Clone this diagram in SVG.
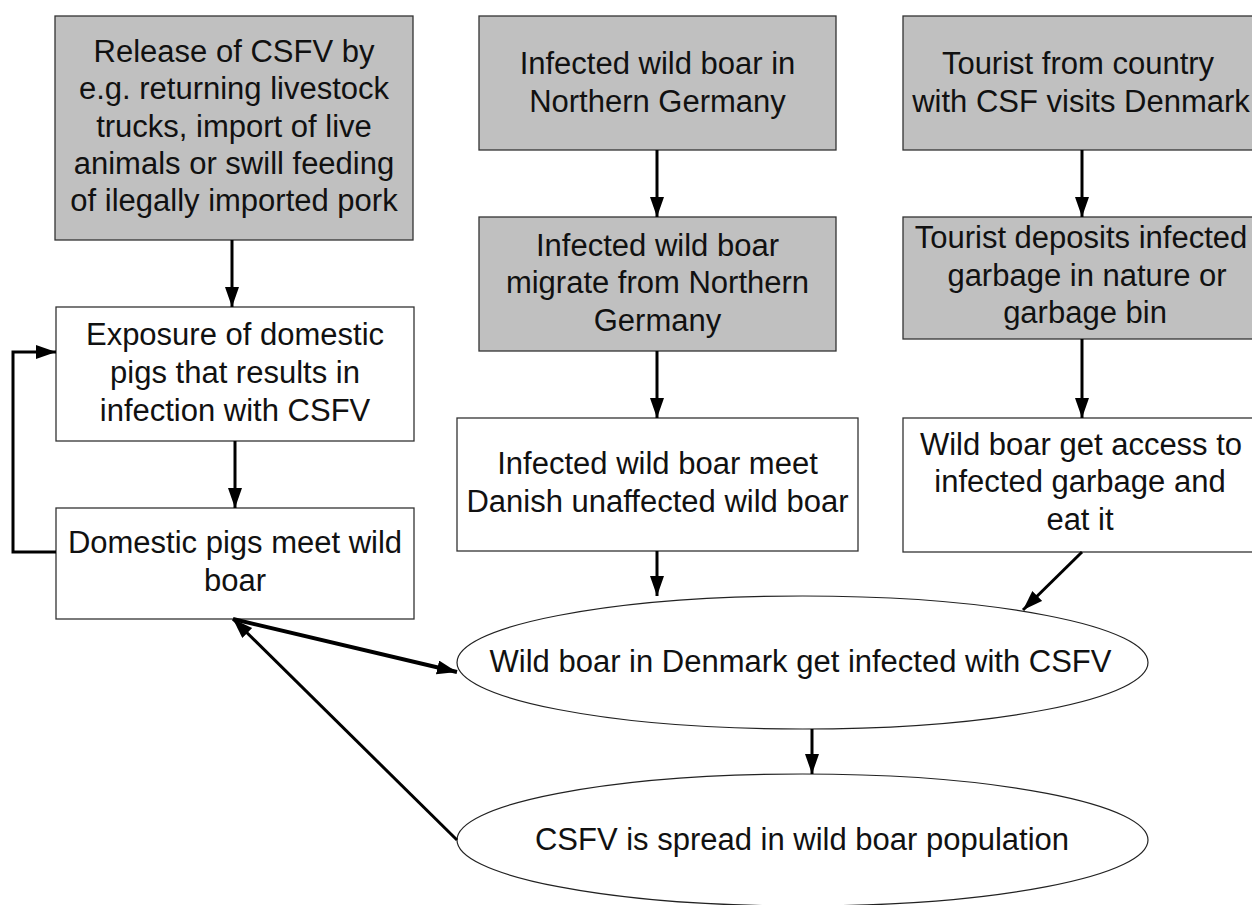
<svg xmlns="http://www.w3.org/2000/svg" width="1252" height="905" viewBox="0 0 1252 905">
<style>
.box{stroke:#333;stroke-width:1.3}
.g{fill:#c0c0c0}
.w{fill:#fff}
.ell{fill:#fff;stroke:#222;stroke-width:1.2}
text{font-family:"Liberation Sans",Arial,sans-serif;font-size:31px;fill:#111;text-anchor:middle}
.c{fill:none;stroke:#000;stroke-width:3;marker-end:url(#ah)}
.thick{stroke-width:4}
</style>
<defs>
<marker id="ah" markerUnits="userSpaceOnUse" markerWidth="22" markerHeight="16" refX="20" refY="7" orient="auto">
<path d="M0,0 L20,7 L0,14 z" fill="#000"/>
</marker>
</defs>
<rect width="1252" height="905" fill="#fff"/>
<g id="n1"><rect class="box g" x="55" y="16" width="358" height="224"/>
<text x="234" y="62">Release of CSFV by</text><text x="234" y="99">e.g. returning livestock</text><text x="234" y="137">trucks, import of live</text><text x="234" y="174">animals or swill feeding</text><text x="234" y="211">of ilegally imported pork</text></g>
<g id="n2"><rect class="box w" x="56" y="307" width="358" height="134"/>
<text x="235" y="345">Exposure of domestic</text><text x="235" y="383">pigs that results in</text><text x="235" y="421">infection with CSFV</text></g>
<g id="n3"><rect class="box w" x="56" y="508" width="358" height="111"/>
<text x="235" y="553">Domestic pigs meet wild</text><text x="235" y="591">boar</text></g>
<g id="n4"><rect class="box g" x="479" y="16" width="357" height="134"/>
<text x="657.5" y="74">Infected wild boar in</text><text x="657.5" y="112">Northern Germany</text></g>
<g id="n5"><rect class="box g" x="479" y="217" width="357" height="134"/>
<text x="657.5" y="256">Infected wild boar</text><text x="657.5" y="293">migrate from Northern</text><text x="657.5" y="331">Germany</text></g>
<g id="n6"><rect class="box w" x="457" y="418" width="401" height="133"/>
<text x="657.5" y="474">Infected wild boar meet</text><text x="657.5" y="512">Danish unaffected wild boar</text></g>
<g id="n7"><rect class="box g" x="903" y="16" width="358" height="134"/>
<text x="1078" y="74">Tourist from country</text><text x="1081" y="112">with CSF visits Denmark</text></g>
<g id="n8"><rect class="box g" x="903" y="217" width="358" height="122"/>
<text x="1081" y="248">Tourist deposits infected</text><text x="1087" y="286">garbage in nature or</text><text x="1085" y="323">garbage bin</text></g>
<g id="n9"><rect class="box w" x="903" y="418" width="358" height="134"/>
<text x="1081" y="455">Wild boar get access to</text><text x="1080" y="492">infected garbage and</text><text x="1080" y="530">eat it</text></g>
<g id="n10"><ellipse class="ell" cx="802.5" cy="662.5" rx="345.5" ry="66.5"/>
<text x="800.5" y="672">Wild boar in Denmark get infected with CSFV</text></g>
<g id="n11"><ellipse class="ell" cx="802.5" cy="840" rx="345.5" ry="66"/>
<text x="802" y="850">CSFV is spread in wild boar population</text></g>
<g id="connectors">
<path class="c" d="M232,240 V307"/>
<path class="c" d="M235,441 V508"/>
<path class="c" d="M56,552 H13 V352 H56"/>
<path class="c" d="M657,150 V217"/>
<path class="c" d="M657,351 V418"/>
<path class="c" d="M657,551 V596"/>
<path class="c" d="M1082,150 V217"/>
<path class="c" d="M1082,339 V418"/>
<path class="c" d="M1082,552 L1023,610"/>
<path class="c" d="M812,729 V774"/>
<path class="c thick" d="M233,619 L457,672"/>
<path class="c" d="M457,840 L233,619"/>
</g>
</svg>
